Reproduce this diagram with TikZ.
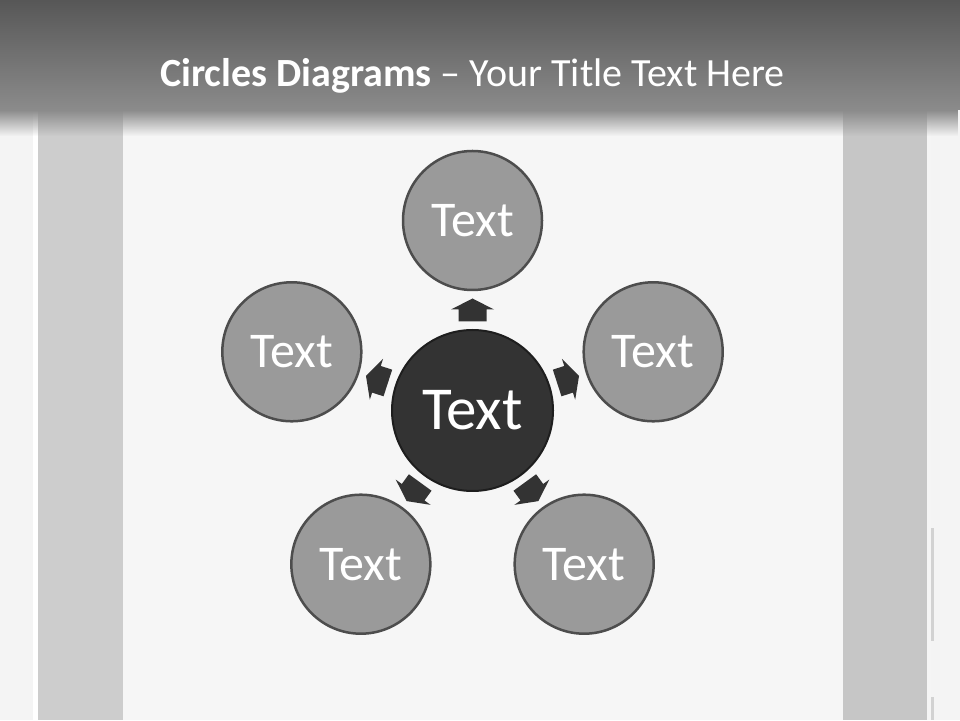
\documentclass[tikz,border=0pt]{standalone}
\usepackage{fontspec}
\setmainfont{Carlito}
\usetikzlibrary{fadings,calc}
\definecolor{bgc}{HTML}{F4F4F4}
\definecolor{innerc}{HTML}{F6F6F6}
\definecolor{stripl}{HTML}{CDCDCD}
\definecolor{stripr}{HTML}{C6C6C6}
\definecolor{edgec}{HTML}{D2D2D2}
\definecolor{headtop}{HTML}{575757}
\definecolor{headbot}{HTML}{8B8B8B}
\definecolor{outerfill}{HTML}{9A9A9A}
\definecolor{outerline}{HTML}{4D4D4D}
\definecolor{centerfill}{HTML}{333333}
\definecolor{centerline}{HTML}{1E1E1E}
\definecolor{arrowc}{HTML}{333333}
\tikzset{
  outercirc/.style={circle, minimum size=139pt, inner sep=0pt, fill=outerfill, draw=outerline, line width=2.5pt, text=white, font=\fontsize{50}{60}\selectfont},
  centercirc/.style={circle, minimum size=161pt, inner sep=0pt, fill=centerfill, draw=centerline, line width=2pt, text=white, font=\fontsize{61}{72}\selectfont},
  blockarrow/.style={fill=arrowc},
  titletext/.style={text=white, font=\fontsize{40}{48}\selectfont, inner sep=0pt}
}
\begin{document}
\begin{tikzpicture}[x=1pt,y=1pt]
\useasboundingbox (0,0) rectangle (960,720);
% background
\fill[bgc] (0,0) rectangle (960,720);
\fill[innerc] (123,0) rectangle (843,610);
% strips
\fill[white] (33,0) rectangle (38,610);
\fill[stripl] (38,0) rectangle (123,610);
\fill[stripr] (843,0) rectangle (927,610);
\fill[white!96!black] (927,0) rectangle (931,610);
\fill[edgec] (931,79) rectangle (934,192);
\fill[edgec] (931,0) rectangle (934,23);
% header
\shade[top color=headtop, bottom color=headbot] (0,610) rectangle (960,720);
\fill[headbot, path fading=south] (0,584) rectangle (960,610);
\node[titletext, anchor=base] (title) at (472.5,633) {\textbf{Circles Diagrams} – Your Title Text Here};
% circles
\coordinate (c) at (472.5,309.5);
\node[centercirc] (center) at (c) {Text};
\node[outercirc] (n1) at ($(c)+(90:190)$) {Text};
\node[outercirc] (n2) at ($(c)+(18:190)$) {Text};
\node[outercirc] (n3) at ($(c)+(-54:190)$) {Text};
\node[outercirc] (n4) at ($(c)+(-126:190)$) {Text};
\node[outercirc] (n5) at ($(c)+(162:190)$) {Text};
% arrows
\foreach \a in {90,18,-54,-126,162}{
  \begin{scope}[shift={(c)}, rotate=\a]
    \fill[blockarrow] (89,-14) -- (101,-14) -- (101,-21.5) -- (112,0) -- (101,21.5) -- (101,14) -- (89,14) -- cycle;
  \end{scope}
}
\end{tikzpicture}
\end{document}
